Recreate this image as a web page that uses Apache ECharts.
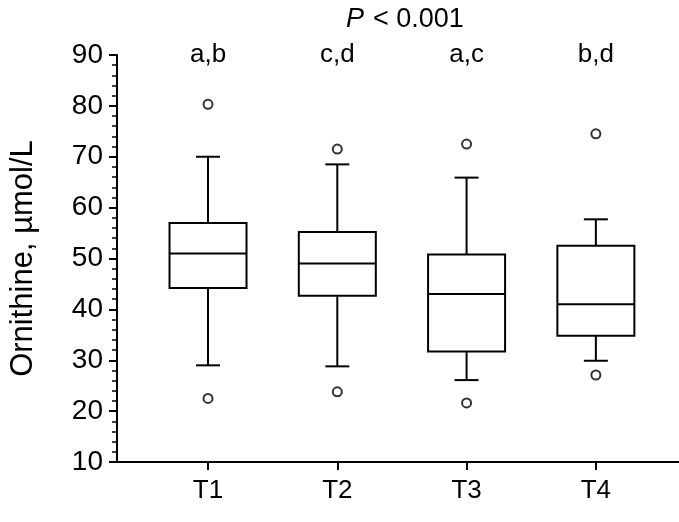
<!DOCTYPE html>
<html><head><meta charset="utf-8">
<script src="https://cdn.jsdelivr.net/npm/echarts@6/dist/echarts.min.js"></script>
<style>html,body{margin:0;background:#fff}#c{width:679px;height:522px}</style>
</head><body><div id="c"></div>
<script>
var groups = ['T1','T2','T3','T4'];
// [low whisker, Q1, median, Q3, high whisker]
var boxes = [
  [29, 44.2, 51, 57, 70],
  [28.8, 42.7, 49, 55.2, 68.5],
  [26.1, 31.7, 43, 50.8, 65.9],
  [29.9, 34.8, 41, 52.5, 57.7]
];
var outliers = [[1,80.3],[1,22.5],[2,71.5],[2,23.8],[3,72.5],[3,21.6],[4,74.5],[4,27.1]];
var letters = ['a,b','c,d','a,c','b,d'];
var yTicks = [10,20,30,40,50,60,70,80,90];

var chart = echarts.init(document.getElementById('c'));
var font = 'Liberation Sans, Arial, sans-serif';
var boxData = boxes.map(function(b,i){ return [i+1].concat(b); });

chart.setOption({
  animation: false,
  graphic: [
    { type: 'text', left: 346, top: 6, style: { text: 'P', fill: '#000', font: 'italic 27px "Liberation Sans", Arial' } },
    { type: 'text', left: 373, top: 6, style: { text: '< 0.001', fill: '#000', font: '27px "Liberation Sans", Arial' } }
  ],
  grid: { left: 117, right: 0, top: 55, bottom: 60 },
  xAxis: {
    type: 'value', min: 0.296, max: 4.643,
    splitLine: { show: false },
    axisLine: { lineStyle: { color: '#000', width: 2 } },
    axisTick: { customValues: [1,2,3,4], length: 8, lineStyle: { color: '#000', width: 2 } },
    axisLabel: { customValues: [1,2,3,4], formatter: function(v){ return groups[Math.round(v)-1]; },
      fontFamily: font, fontSize: 26, color: '#000', margin: 16 }
  },
  yAxis: {
    type: 'value', min: 10, max: 90, interval: 10,
    name: 'Ornithine, µmol/L', nameLocation: 'middle', nameGap: 78, nameRotate: 90,
    nameTextStyle: { fontFamily: font, fontSize: 31, color: '#000' },
    splitLine: { show: false },
    axisLine: { show: true, lineStyle: { color: '#000', width: 2 } },
    axisTick: { length: 8, lineStyle: { color: '#000', width: 2 } },
    minorTick: { show: true, splitNumber: 5, length: 5, lineStyle: { color: '#000', width: 1.5 } },
    axisLabel: { fontFamily: font, fontSize: 28, color: '#000', margin: 14,
      formatter: function(v){ return yTicks.indexOf(v) >= 0 ? v : ''; } }
  },
  series: [{
    type: 'custom',
    data: boxData,
    renderItem: function(params, api){
      var x = api.value(0);
      var p = [1,2,3,4,5].map(function(k){ return api.coord([x, api.value(k)]); });
      var c = p[0][0], hw = 38.5, cap = 12;
      var s = { stroke: '#000', lineWidth: 2, fill: null };
      return { type: 'group', children: [
        { type: 'rect', shape: { x: c-hw, y: p[3][1], width: 2*hw, height: p[1][1]-p[3][1] }, style: { stroke: '#000', lineWidth: 2, fill: '#fff' } },
        { type: 'line', shape: { x1: c-hw, y1: p[2][1], x2: c+hw, y2: p[2][1] }, style: s },
        { type: 'line', shape: { x1: c, y1: p[3][1], x2: c, y2: p[4][1] }, style: s },
        { type: 'line', shape: { x1: c, y1: p[1][1], x2: c, y2: p[0][1] }, style: s },
        { type: 'line', shape: { x1: c-cap, y1: p[4][1], x2: c+cap, y2: p[4][1] }, style: s },
        { type: 'line', shape: { x1: c-cap, y1: p[0][1], x2: c+cap, y2: p[0][1] }, style: s }
      ]};
    }
  }, {
    type: 'scatter', data: outliers, symbol: 'circle', symbolSize: 9,
    itemStyle: { color: '#fff', borderColor: '#000', borderWidth: 2 }
  }, {
    type: 'scatter', symbolSize: 1, itemStyle: { opacity: 1, color: 'rgba(0,0,0,0)' },
    data: letters.map(function(t,i){ return { value: [i+1, 90], name: t }; }),
    label: { show: true, position: 'inside', opacity: 1, formatter: '{b}', fontFamily: font, fontSize: 26, color: '#000', textBorderWidth: 0 }
  }]
});
</script>
</body></html>
